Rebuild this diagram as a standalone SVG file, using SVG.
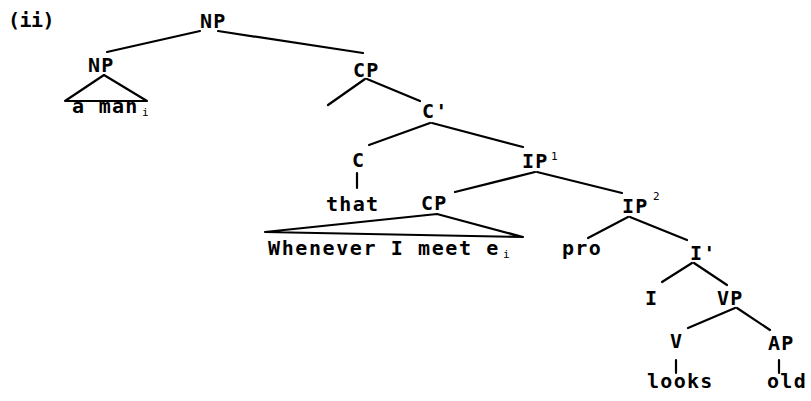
<svg xmlns="http://www.w3.org/2000/svg" width="811" height="401" viewBox="0 0 811 401">
  <style>
    text { font-family: "DejaVu Sans Mono", "Liberation Mono", monospace; font-weight: bold; font-size: 20px; letter-spacing: 1.3px; fill: #000; }
    text.sub { font-size: 11px; font-weight: normal; letter-spacing: 0; }
    .edge { stroke: #000; stroke-width: 2.2; fill: none; stroke-linecap: round; stroke-linejoin: round; }
  </style>
  <rect width="811" height="401" fill="#fff"/>

  <text x="8" y="27" style="letter-spacing:-0.5px">(ii)</text>

  <!-- connectors -->
  <g id="connectors">
    <line class="edge" x1="200" y1="31" x2="107" y2="52"/>
    <line class="edge" x1="218" y1="31" x2="363" y2="53"/>
    <polygon class="edge" points="104,75 65,101 147,101"/>
    <line class="edge" x1="365" y1="79" x2="328" y2="105"/>
    <line class="edge" x1="367" y1="79" x2="420" y2="101"/>
    <line class="edge" x1="430" y1="123" x2="369" y2="145"/>
    <line class="edge" x1="432" y1="123" x2="523" y2="147"/>
    <line class="edge" x1="357" y1="173" x2="357" y2="188"/>
    <line class="edge" x1="535" y1="172" x2="455" y2="192"/>
    <line class="edge" x1="537" y1="172" x2="622" y2="193"/>
    <polygon class="edge" points="437,214 265,232 523,237"/>
    <line class="edge" x1="628" y1="217" x2="588" y2="238"/>
    <line class="edge" x1="630" y1="217" x2="687" y2="240"/>
    <line class="edge" x1="692" y1="263" x2="662" y2="282"/>
    <line class="edge" x1="694" y1="263" x2="727" y2="285"/>
    <line class="edge" x1="735" y1="308" x2="688" y2="328"/>
    <line class="edge" x1="737" y1="308" x2="770" y2="330"/>
    <line class="edge" x1="676" y1="360" x2="676" y2="373"/>
    <line class="edge" x1="779" y1="360" x2="779" y2="373"/>
  </g>

  <!-- nodes -->
  <g id="np-root"><text x="200" y="28">NP</text></g>
  <g id="np-head"><text x="88" y="72">NP</text></g>
  <g id="a-man"><text x="72" y="113">a man</text><text class="sub" x="142" y="116">i</text></g>
  <g id="cp-top"><text x="353" y="77">CP</text></g>
  <g id="c-bar"><text x="422" y="118">C'</text></g>
  <g id="c"><text x="352" y="167">C</text></g>
  <g id="that"><text x="326" y="211">that</text></g>
  <g id="ip1"><text x="522" y="168">IP</text><text class="sub" x="551" y="160">1</text></g>
  <g id="cp-adjunct"><text x="421" y="210">CP</text></g>
  <g id="whenever"><text x="268" y="255" style="letter-spacing:1.6px">Whenever I meet e</text><text class="sub" x="503" y="258">i</text></g>
  <g id="ip2"><text x="622" y="213">IP</text><text class="sub" x="653" y="200">2</text></g>
  <g id="pro"><text x="562" y="255">pro</text></g>
  <g id="i-bar"><text x="690" y="260">I'</text></g>
  <g id="i"><text x="645" y="305">I</text></g>
  <g id="vp"><text x="717" y="305">VP</text></g>
  <g id="v"><text x="670" y="348">V</text></g>
  <g id="ap"><text x="768" y="350">AP</text></g>
  <g id="looks"><text x="647" y="388">looks</text></g>
  <g id="old"><text x="767" y="388">old</text></g>
</svg>
